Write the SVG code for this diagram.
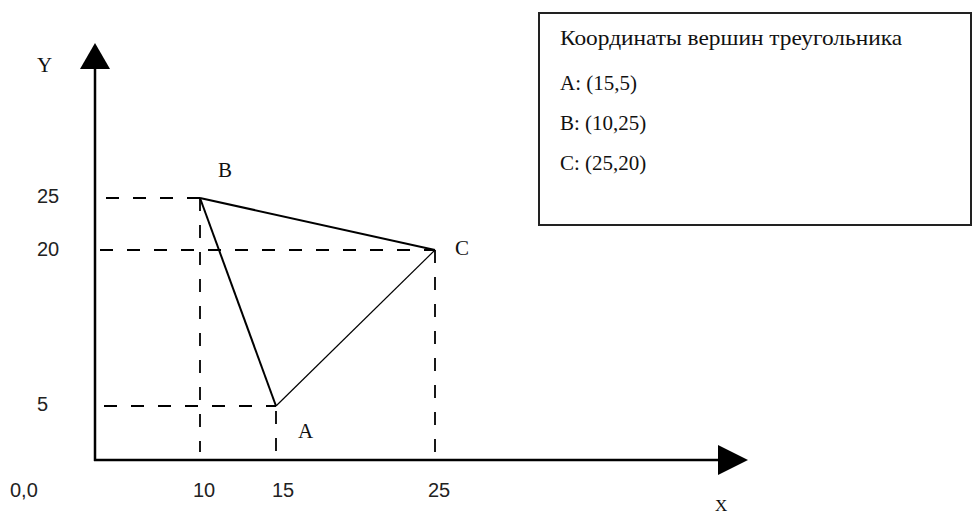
<svg xmlns="http://www.w3.org/2000/svg" width="973" height="516" viewBox="0 0 973 516">
<style>
.axis{stroke:#000;stroke-width:2.5;fill:none}
.dash{stroke:#000;stroke-width:1.8;stroke-dasharray:13 14;fill:none}
.edge{stroke:#000;fill:none}
.num{font-family:"Liberation Sans",Arial,sans-serif;font-size:20px;fill:#222}
.ser{font-family:"Liberation Serif","Times New Roman",serif;font-size:21px;fill:#111}
</style>
<rect width="973" height="516" fill="#fff"/>
<g id="axes">
<line class="axis" x1="95" y1="461" x2="95" y2="66"/>
<polygon points="95,43 80,69 110,69" fill="#000"/>
<line class="axis" x1="94" y1="460" x2="720" y2="460"/>
<polygon points="748,460 718,445 718,475" fill="#000"/>
</g>
<g id="guides">
<line class="dash" x1="106" y1="198" x2="200" y2="198"/>
<line class="dash" x1="100" y1="250" x2="435" y2="250"/>
<line class="dash" x1="104" y1="406" x2="276" y2="406"/>
<line class="dash" x1="200" y1="198" x2="200" y2="452"/>
<line class="dash" x1="276" y1="411" x2="276" y2="452"/>
<line class="dash" x1="435" y1="250" x2="435" y2="452"/>
</g>
<g id="connectors">
<line class="edge" stroke-width="2" x1="200" y1="198" x2="276" y2="406"/>
<line class="edge" stroke-width="2" x1="200" y1="198" x2="435" y2="250"/>
<line class="edge" stroke-width="1.2" x1="276" y1="406" x2="435" y2="250"/>
</g>
<g id="labels">
<text class="ser" x="37" y="72">Y</text>
<text class="ser" x="715" y="511" style="font-size:17px">X</text>
<text class="num" x="37" y="203">25</text>
<text class="num" x="37" y="256">20</text>
<text class="num" x="37" y="411">5</text>
<text class="num" x="10" y="497">0,0</text>
<text class="num" x="193" y="497">10</text>
<text class="num" x="272" y="497">15</text>
<text class="num" x="428" y="497">25</text>
</g>
<g id="vertex-B"><text class="ser" x="218" y="177">B</text></g>
<g id="vertex-C"><text class="ser" x="455" y="255">C</text></g>
<g id="vertex-A"><text class="ser" x="298" y="438">A</text></g>
<g id="legend">
<rect x="539" y="13" width="432" height="212" fill="#fff" stroke="#222" stroke-width="2"/>
<text class="ser" x="560" y="45" textLength="342" lengthAdjust="spacingAndGlyphs">Координаты вершин треугольника</text>
<text class="ser" x="560" y="90">A: (15,5)</text>
<text class="ser" x="560" y="130">B: (10,25)</text>
<text class="ser" x="560" y="170">C: (25,20)</text>
</g>
</svg>
